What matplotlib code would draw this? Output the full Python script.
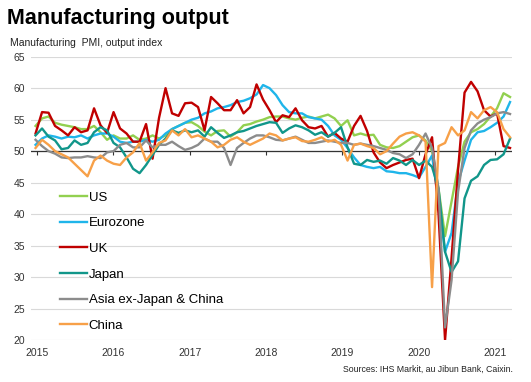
import numpy as np
import matplotlib
matplotlib.use("Agg")
import matplotlib.pyplot as plt

plt.rcParams['font.family'] = ['Liberation Sans', 'DejaVu Sans']

# Monthly PMI output index, Jan 2015 - Feb 2021 (74 months)
us = [54.0, 55.2, 55.5, 54.5, 54.2, 54.0, 53.8, 53.5, 53.5, 54.0, 53.0, 51.8,
      52.5, 52.0, 52.0, 52.5, 51.8, 52.0, 52.5, 52.0, 52.5, 53.5, 54.0, 54.5,
      54.6, 54.0, 53.1, 52.5, 53.2, 53.3, 52.3, 53.0, 54.1, 54.3, 54.7, 55.0,
      55.4, 55.5, 55.5, 55.2, 55.0, 55.3, 55.5, 55.2, 55.5, 55.8, 55.2, 54.0,
      54.9, 52.5, 52.8, 52.5, 52.6, 51.0, 50.6, 50.5, 50.8, 51.5, 52.2, 52.5,
      51.7, 50.0, 44.0, 36.5, 42.0, 47.5, 51.5, 53.0, 53.5, 54.3, 55.5, 56.8,
      59.2, 58.6]
eurozone = [51.0, 52.0, 52.5, 52.3, 52.0, 52.3, 52.2, 52.5, 52.0, 52.5, 52.8, 52.8,
            52.3, 51.5, 51.3, 51.5, 51.5, 51.8, 51.5, 51.8, 52.8, 53.5, 54.0, 54.5,
            55.0, 55.3, 56.0, 56.3, 56.8, 57.0, 57.3, 57.8, 58.0, 58.4, 59.0, 60.5,
            60.0, 58.9, 57.3, 56.2, 56.0, 56.0, 55.4, 55.2, 55.0, 54.0, 52.5, 51.8,
            50.5, 49.0, 47.8, 47.5, 47.3, 47.5, 46.8, 46.7, 46.5, 46.5, 46.2, 45.8,
            47.5, 49.3, 42.0, 34.0, 37.0, 45.0, 48.5, 51.8, 53.0, 53.2, 53.8, 54.5,
            55.5, 57.8]
uk = [52.8, 56.2, 56.1, 54.0, 53.3, 52.5, 53.8, 53.0, 53.3, 56.8, 54.1, 52.9,
      56.2, 53.6, 52.8, 51.5, 51.5, 54.3, 48.8, 55.3, 60.0, 56.0, 55.6, 57.6,
      57.7, 57.0, 53.3, 58.6, 57.6, 56.5, 56.5, 58.1, 56.0, 57.0, 60.6, 58.2,
      56.5, 54.6, 55.7, 55.4, 56.8, 54.9, 53.8, 53.6, 54.0, 52.3, 52.9, 52.0,
      51.5, 54.0, 55.6, 53.2, 49.8, 48.2, 47.3, 47.8, 48.2, 48.6, 48.8, 45.7,
      49.5, 52.2, 40.0, 20.0, 33.0, 47.0, 59.3, 61.0, 59.5, 56.5, 55.5, 56.0,
      50.8, 50.5]
japan = [52.5, 53.6, 52.3, 51.7, 50.3, 50.5, 51.7, 51.0, 51.3, 53.0, 53.8, 53.3,
         51.3, 50.6, 49.0, 47.2, 46.5, 47.8, 49.4, 51.0, 52.0, 53.3, 52.9, 53.3,
         53.0, 53.3, 52.3, 53.8, 52.9, 52.1, 52.5, 53.0, 53.2, 53.6, 54.0, 54.3,
         54.6, 54.5, 52.9, 53.6, 54.1, 53.8, 53.3, 52.6, 53.0, 52.3, 52.9, 53.8,
         50.6, 48.0, 47.8, 48.6, 48.3, 48.5, 48.0, 48.9, 48.5, 47.8, 48.6, 47.8,
         48.5, 47.5, 44.0, 34.0, 30.8, 32.5, 42.5, 45.3, 46.0, 47.8, 48.6, 48.7,
         49.5, 52.0]
asia = [51.8, 50.8, 50.0, 49.6, 49.0, 48.9, 49.0, 49.0, 49.2, 49.0, 48.9, 49.8,
        50.0, 51.0, 51.3, 50.6, 50.6, 51.7, 50.6, 51.0, 51.0, 51.5, 50.8, 50.2,
        50.5, 51.0, 52.0, 51.5, 51.5, 50.5, 47.8, 50.5, 51.3, 52.0, 52.5, 52.5,
        52.2, 51.8, 51.7, 52.0, 52.3, 51.8, 51.3, 51.3, 51.5, 51.7, 51.5, 51.3,
        51.3, 51.0, 51.2, 51.0, 50.8, 50.5, 50.2, 49.7, 49.5, 48.9, 49.5, 51.0,
        52.8, 50.5, 44.0, 22.0, 29.5, 43.5, 50.5, 53.3, 54.4, 55.0, 55.4, 56.0,
        56.2, 55.9]
china = [50.5, 51.8, 51.0, 50.0, 49.5, 49.0, 48.0, 47.0, 46.0, 48.5, 49.3, 48.5,
         48.0, 47.8, 49.0, 49.8, 51.3, 48.5, 49.8, 51.3, 51.7, 53.3, 52.5, 53.5,
         52.2, 52.5, 52.0, 51.5, 50.6, 51.0, 51.8, 52.2, 51.5, 51.0, 51.5, 52.0,
         52.8, 52.5, 51.7, 52.0, 52.2, 51.6, 51.5, 51.8, 52.2, 51.5, 51.8, 51.0,
         48.5, 51.0, 51.2, 50.8, 50.5, 49.5, 50.0, 51.2, 52.3, 52.8, 53.0, 52.5,
         51.5, 28.4, 50.8, 51.3, 53.8, 52.5, 53.3, 56.2, 55.2, 56.5, 57.0, 56.2,
         53.5, 52.2]

labels = ['US', 'Eurozone', 'UK', 'Japan', 'Asia ex-Japan & China', 'China']
colors = ['#92d050', '#1fb5ea', '#c00000', '#11968a', '#8c8c8c', '#f7a048']
years = ['2015', '2016', '2017', '2018', '2019', '2020', '2021']

months = np.arange(len(us))
year_ticks = 0.2 + 11.75 * np.arange(len(years))

fig = plt.figure(figsize=(5.31, 3.82), dpi=100)
ax = fig.add_axes([31 / 531, 1 - 340 / 382, 481 / 531, 283.3 / 382])

# grid + 50 line
for v in range(20, 70, 5):
    ax.axhline(v, color='#d9d9d9', lw=0.8, zorder=0)
ax.axhline(50, color='#333333', lw=0.9, zorder=1)
ax.vlines(year_ticks, 49.4, 50, color='#333333', lw=0.8, zorder=1)

for series, lab, col in zip([us, eurozone, uk, japan, asia, china], labels, colors):
    ax.plot(months, series, color=col, lw=1.7, label=lab, zorder=2)

ax.set_xlim(-0.7, 73.3)
ax.set_ylim(20, 65)
ax.set_yticks(range(20, 70, 5))
ax.set_xticks(year_ticks)
ax.set_xticklabels(years)
ax.tick_params(axis='both', length=0, labelsize=7.5, colors='#333333')
ax.tick_params(axis='y', pad=4)
ax.tick_params(axis='x', pad=6)
for s in ax.spines.values():
    s.set_visible(False)

ax.legend(loc='upper left', bbox_to_anchor=(24 / 481, 0.5436), frameon=False,
          fontsize=9.5, handlelength=2.05, handletextpad=0.1, labelspacing=1.02,
          borderaxespad=0)

fig.text(7 / 531, 1 - 24 / 382, 'Manufacturing output', fontsize=15.5,
         fontweight='bold', va='baseline', ha='left')
fig.text(10 / 531, 1 - 46 / 382, 'Manufacturing  PMI, output index', fontsize=7.5,
         va='baseline', ha='left', color='#222222')
fig.text(513 / 531, 1 - 372 / 382, 'Sources: IHS Markit, au Jibun Bank, Caixin.',
         fontsize=6.3, va='baseline', ha='right', color='#222222')

fig.savefig('out.png', dpi=100)
